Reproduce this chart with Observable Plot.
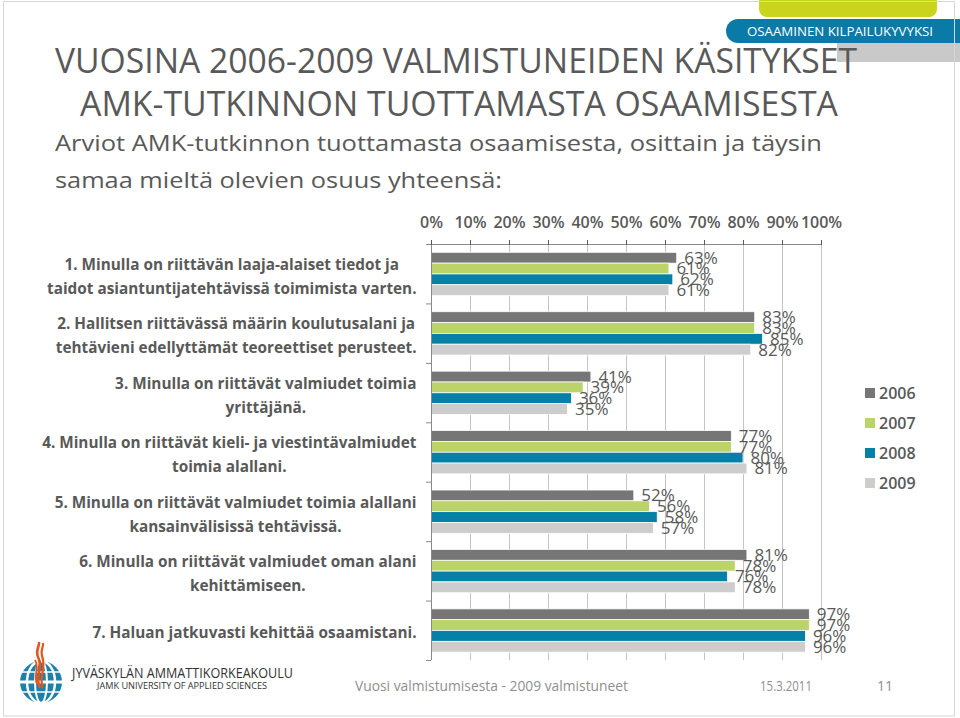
<!DOCTYPE html>
<html><head><meta charset="utf-8">
<script src="https://cdn.jsdelivr.net/npm/d3@7"></script>
<script src="https://cdn.jsdelivr.net/npm/@observablehq/plot@0.6"></script>
<style>
html,body{margin:0;padding:0;background:#fff;}
#slide{position:relative;width:960px;height:718px;overflow:hidden;font-family:"Open Sans",sans-serif;background:#fff;}
.abs{position:absolute;}
</style></head><body><div id="slide"></div>
<script>
// ---------- data ----------
const categories = [
  "1. Minulla on riittävän laaja-alaiset tiedot ja\ntaidot asiantuntijatehtävissä toimimista varten.",
  "2. Hallitsen riittävässä määrin koulutusalani ja\ntehtävieni edellyttämät teoreettiset perusteet.",
  "3. Minulla on riittävät valmiudet toimia\nyrittäjänä.",
  "4. Minulla on riittävät kieli- ja viestintävalmiudet\ntoimia alallani.",
  "5. Minulla on riittävät valmiudet toimia alallani\nkansainvälisissä tehtävissä.",
  "6. Minulla on riittävät valmiudet oman alani\nkehittämiseen.",
  "7. Haluan jatkuvasti kehittää osaamistani."
];
const years = ["2006", "2007", "2008", "2009"];
const values2006 = [63, 83, 41, 77, 52, 81, 97];
const values2007 = [61, 83, 39, 77, 56, 78, 97];
const values2008 = [62, 85, 36, 80, 58, 76, 96];
const values2009 = [61, 82, 35, 81, 57, 78, 96];
const xTicks = [0, 10, 20, 30, 40, 50, 60, 70, 80, 90, 100];
const yearColors = ["#767676", "#bcd36a", "#0581a8", "#cdcdcd"];

const titleLines = ["VUOSINA 2006-2009 VALMISTUNEIDEN KÄSITYKSET", "AMK-TUTKINNON TUOTTAMASTA OSAAMISESTA"];
const subtitleLines = ["Arviot AMK-tutkinnon tuottamasta osaamisesta, osittain ja täysin", "samaa mieltä olevien osuus yhteensä:"];
const headerTag = "OSAAMINEN KILPAILUKYVYKSI";
const footerNote = "Vuosi valmistumisesta - 2009 valmistuneet";
const footerDate = "15.3.2011";
const pageNumber = "11";
const orgName = "JYVÄSKYLÄN AMMATTIKORKEAKOULU";
const orgNameEn = "JAMK UNIVERSITY OF APPLIED SCIENCES";

// ---------- table ----------
const series = [values2006, values2007, values2008, values2009];
const rows = [];
categories.forEach((c, ci) => years.forEach((y, yi) => rows.push({cat: c, ci, year: y, yi, value: series[yi][ci]})));

const slide = document.getElementById("slide");
const NS = "http://www.w3.org/2000/svg";
const ctx = document.createElement("canvas").getContext("2d");
function textW(t, size, weight) { ctx.font = `${weight} ${size}px "Open Sans"`; return ctx.measureText(t).width; }

// ---------- header ----------
const head = document.createElementNS(NS, "svg");
head.setAttribute("width", 960); head.setAttribute("height", 200);
head.setAttribute("class", "abs"); head.style.left = "0px"; head.style.top = "0px";
head.innerHTML = `
  <path d="M759,0 H937 V9 a8,8 0 0 1 -8,8 H767 a8,8 0 0 1 -8,-8 Z" fill="#c9d41c"/>
  <path d="M738,19 H960 V43 H738 a12,12 0 0 1 -12,-12 a12,12 0 0 1 12,-12 Z" fill="#0a7aa6"/>
  <rect x="837" y="43" width="123" height="19" fill="#c9c9c9"/>
  <text x="747" y="35.5" font-size="12.6" fill="#fff" textLength="186" lengthAdjust="spacingAndGlyphs">${headerTag}</text>
  <text x="456" y="73" text-anchor="middle" font-size="35" fill="#595959" textLength="802" lengthAdjust="spacingAndGlyphs">${titleLines[0]}</text>
  <text x="459" y="116" text-anchor="middle" font-size="35" fill="#595959" textLength="758" lengthAdjust="spacingAndGlyphs">${titleLines[1]}</text>
  <text x="55" y="151" font-size="22" fill="#595959" textLength="767" lengthAdjust="spacingAndGlyphs">${subtitleLines[0]}</text>
  <text x="55" y="188" font-size="22" fill="#595959" textLength="447" lengthAdjust="spacingAndGlyphs">${subtitleLines[1]}</text>
`;
slide.appendChild(head);

// ---------- chart ----------
const TOP = 190, H = 480;
const GAP = 0.14, BAR = 0.182;
const labelLines = categories.map(c => c.split("\n"));
const refLine = labelLines[1][0];
const labelSize = 100 * 358 / textW(refLine, 100, 700);
const labelMarks = categories.map((c, i) => {
  const maxW = d3.max(labelLines[i], l => textW(l, labelSize, 700));
  return Plot.text([c], {
    x: () => 0, y: () => i + 0.5, text: d => d,
    textAnchor: "middle", dx: -(15 + maxW / 2),
    fontSize: labelSize, fontWeight: "bold", fill: "#595959", lineHeight: 24 / labelSize
  });
});

const chart = Plot.plot({
  width: 960, height: H,
  marginLeft: 431, marginRight: 139, marginTop: 244 - TOP, marginBottom: TOP + H - 660,
  style: {fontFamily: '"Open Sans", sans-serif', background: "transparent", overflow: "visible"},
  x: {domain: [0, 100], axis: null},
  y: {domain: [0, 7], reverse: true, axis: null},
  color: {domain: years, range: yearColors},
  marks: [
    Plot.gridX({ticks: xTicks, stroke: "#c4c4c4", strokeOpacity: 1, strokeWidth: 1}),
    Plot.rect(rows, {
      x1: () => 0, x2: "value",
      y1: d => d.ci + GAP + d.yi * BAR, y2: d => d.ci + GAP + (d.yi + 1) * BAR,
      fill: "year", stroke: "#fff", strokeWidth: 0.75
    }),
    Plot.ruleX([0], {stroke: "#8a8a8a"}),
    Plot.ruleY([0], {stroke: "#8a8a8a"}),
    Plot.axisY({ticks: d3.range(0, 8), tickSize: 5, tickFormat: () => "", stroke: "#8a8a8a"}),
    Plot.axisX({anchor: "top", ticks: xTicks, tickFormat: d => d + "%", tickSize: 5, tickPadding: 12,
      fontSize: 16, fontWeight: 600, color: "#595959", label: null}),
    Plot.text(rows, {
      x: "value", y: d => d.ci + GAP + (d.yi + 0.5) * BAR, text: d => d.value + "%",
      textAnchor: "start", dx: 7, fontSize: 17, fill: "#595959"
    }),
    ...labelMarks
  ]
});
chart.classList.add("abs");
chart.style.left = "0px"; chart.style.top = TOP + "px";
slide.appendChild(chart);

// ---------- legend ----------
years.forEach((y, i) => {
  const cy = 393 + i * 30;
  const sw = document.createElement("div");
  sw.className = "abs";
  Object.assign(sw.style, {left: "865px", top: (cy - 5) + "px", width: "10px", height: "10px", background: yearColors[i]});
  slide.appendChild(sw);
  const t = document.createElement("div");
  t.className = "abs";
  t.textContent = y;
  Object.assign(t.style, {left: "879px", top: (cy - 11) + "px", height: "22px", lineHeight: "22px", fontSize: "16px", fontWeight: "600", color: "#595959"});
  slide.appendChild(t);
});

// ---------- footer ----------
const foot = document.createElementNS(NS, "svg");
foot.setAttribute("width", 960); foot.setAttribute("height", 718);
foot.setAttribute("class", "abs"); foot.style.left = "0px"; foot.style.top = "0px";
foot.style.pointerEvents = "none";
foot.innerHTML = `
  <rect x="3.5" y="1.5" width="951" height="714.5" fill="none" stroke="#d6d6d6"/>
  <g>
    <circle cx="41" cy="682" r="21" fill="#1b80ab"/>
    <ellipse cx="41" cy="682" rx="14" ry="21" fill="none" stroke="#fff" stroke-width="2.5"/>
    <ellipse cx="41" cy="682" rx="6" ry="21" fill="none" stroke="#fff" stroke-width="2"/>
    <line x1="20" y1="682" x2="62" y2="682" stroke="#fff" stroke-width="3"/>
    <line x1="22" y1="672" x2="60" y2="672" stroke="#fff" stroke-width="1.5"/>
    <line x1="22" y1="692" x2="60" y2="692" stroke="#fff" stroke-width="1.5"/>
    <path d="M40,688 C34,676 44,668 38,657 C35,650 40,646 39,642" fill="none" stroke="#e4561f" stroke-width="2.6"/>
    <path d="M43,688 C38,676 47,668 42,656 C40,650 44,647 43,643" fill="none" stroke="#e4561f" stroke-width="2.2"/>
    <path d="M37,684 C33,675 40,668 35,660" fill="none" stroke="#e4561f" stroke-width="1.8"/>
  </g>
  <text x="72" y="678" font-size="14" fill="#333" textLength="221" lengthAdjust="spacingAndGlyphs">${orgName}</text>
  <text x="97" y="689" font-size="9.5" fill="#333" textLength="170" lengthAdjust="spacingAndGlyphs">${orgNameEn}</text>
  <text x="355" y="691" font-size="14" fill="#8f8f8f" textLength="273" lengthAdjust="spacingAndGlyphs">${footerNote}</text>
  <text x="760" y="691" font-size="14" fill="#8f8f8f" textLength="52" lengthAdjust="spacingAndGlyphs">${footerDate}</text>
  <text x="877" y="691" font-size="14" fill="#8f8f8f" textLength="16" lengthAdjust="spacingAndGlyphs">${pageNumber}</text>
`;
slide.appendChild(foot);
</script>
</body></html>
